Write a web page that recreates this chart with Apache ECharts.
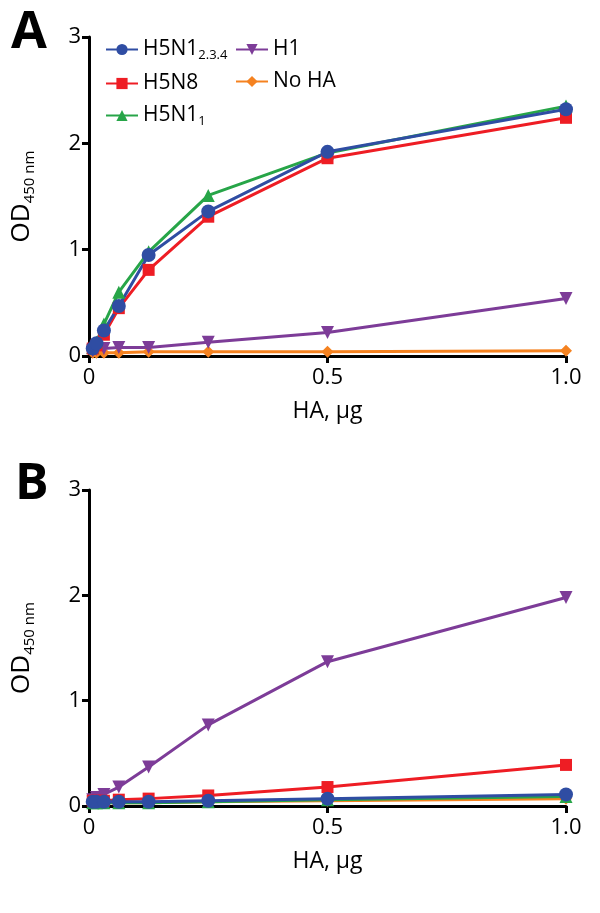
<!DOCTYPE html>
<html><head><meta charset="utf-8">
<script src="https://cdn.jsdelivr.net/npm/echarts@6/dist/echarts.min.js"></script>
<style>html,body{margin:0;padding:0;background:#fff}#c{width:600px;height:913px}</style>
</head><body><div id="c"></div>
<script>
const xValues = [0.0078125, 0.015625, 0.03125, 0.0625, 0.125, 0.25, 0.5, 1.0];
const seriesNames = ['H5N1 2.3.4', 'H5N8', 'H5N1 1', 'H1', 'No HA'];
// Panel A
const A_H5N1_234 = [0.07, 0.12, 0.24, 0.47, 0.95, 1.36, 1.92, 2.32];
const A_H5N8     = [0.07, 0.10, 0.20, 0.45, 0.81, 1.31, 1.86, 2.24];
const A_H5N1_1   = [0.08, 0.13, 0.30, 0.60, 0.98, 1.51, 1.91, 2.35];
const A_H1       = [0.05, 0.06, 0.07, 0.08, 0.08, 0.13, 0.22, 0.54];
const A_NoHA     = [0.03, 0.03, 0.03, 0.03, 0.04, 0.04, 0.04, 0.05];
// Panel B
const B_H5N1_234 = [0.04, 0.04, 0.04, 0.04, 0.04, 0.05, 0.07, 0.11];
const B_H5N8     = [0.05, 0.05, 0.05, 0.06, 0.07, 0.10, 0.18, 0.39];
const B_H5N1_1   = [0.03, 0.03, 0.03, 0.03, 0.03, 0.04, 0.06, 0.09];
const B_H1       = [0.06, 0.08, 0.11, 0.18, 0.37, 0.77, 1.37, 1.98];
const B_NoHA     = [0.03, 0.03, 0.03, 0.03, 0.03, 0.04, 0.05, 0.07];
const xTicks = ['0', '0.5', '1.0'];

const colors = {'H5N1 2.3.4':'#2f4da3','H5N8':'#ee1d24','H5N1 1':'#27a548','H1':'#7d3c98','No HA':'#f58220'};
const symbols = {'H5N1 2.3.4':'circle','H5N8':'rect','H5N1 1':'triangle','H1':'triangle','No HA':'diamond'};
const rot = {'H1':180};
const sizes = {'H5N1 2.3.4':14,'H5N8':12,'H5N1 1':13,'H1':13,'No HA':12};
const FONT = 'Open Sans';

function pair(arr){ return xValues.map((x,i)=>[x, arr[i]]); }
function mk(name, arr, idx){
  return {name, type:'line', xAxisIndex:idx, yAxisIndex:idx, data:pair(arr),
    symbol:symbols[name], symbolSize:sizes[name], symbolRotate:rot[name]||0,
    lineStyle:{width:3,color:colors[name]}, itemStyle:{color:colors[name]},
    z: 2, animation:false};
}
const order = ['No HA','H1','H5N1 1','H5N8','H5N1 2.3.4'];
const A = {'H5N1 2.3.4':A_H5N1_234,'H5N8':A_H5N8,'H5N1 1':A_H5N1_1,'H1':A_H1,'No HA':A_NoHA};
const B = {'H5N1 2.3.4':B_H5N1_234,'H5N8':B_H5N8,'H5N1 1':B_H5N1_1,'H1':B_H1,'No HA':B_NoHA};
const series = [];
order.forEach(n=>series.push(mk(n, A[n], 0)));
order.forEach(n=>series.push(mk(n, B[n], 1)));

function xAxis(idx){
  return {type:'value', gridIndex:idx, min:0, max:1, interval:0.5,
    axisLine:{lineStyle:{color:'#000',width:3}}, axisTick:{length:7,lineStyle:{width:3,color:'#000'}},
    splitLine:{show:false},
    axisLabel:{color:'#000',fontSize:22,fontFamily:FONT,margin:11,formatter:v=>xTicks[Math.round(v*2)]},
    name:'HA, µg', nameLocation:'middle', nameGap:44,
    nameTextStyle:{color:'#000',fontSize:23,fontFamily:FONT}};
}
function yAxis(idx){
  return {type:'value', gridIndex:idx, min:0, max:3, interval:1,
    axisLine:{show:true,lineStyle:{color:'#000',width:3}}, axisTick:{show:true,length:7,lineStyle:{width:3,color:'#000'}},
    splitLine:{show:false},
    axisLabel:{color:'#000',fontSize:22,fontFamily:FONT,margin:8},
    name:'{a|OD}{s|450 nm}', nameLocation:'middle', nameGap:52,
    nameTextStyle:{rich:{a:{fontSize:26,fontFamily:FONT,color:'#000'},s:{fontSize:15,fontFamily:FONT,color:'#000',verticalAlign:'bottom',padding:[16,0,0,0]}}}};
}
const legFmt = n => n==='H5N1 2.3.4' ? '{a|H5N1}{s|2.3.4}' : (n==='H5N1 1' ? '{a|H5N1}{s|1}' : '{a|'+n+'}');
const legRich = {a:{fontSize:21,fontFamily:FONT,color:'#000'},s:{fontSize:13,fontFamily:FONT,color:'#000',padding:[12,0,0,0]}};
const chart = echarts.init(document.getElementById('c'), null, {renderer:'canvas'});
chart.setOption({
  backgroundColor:'#fff',
  animation:false,
  grid:[{left:89,right:34,top:37,height:319},{left:89,right:34,top:490,height:316}],
  xAxis:[xAxis(0),xAxis(1)],
  yAxis:[yAxis(0),yAxis(1)],
  legend:[
    {data:['H5N1 2.3.4','H5N8','H5N1 1'], orient:'vertical', left:100, top:34, itemGap:11, itemWidth:32, itemHeight:14,
     formatter:legFmt, textStyle:{rich:legRich}},
    {data:['H1','No HA'], orient:'vertical', left:230, top:34, itemGap:11, itemWidth:32, itemHeight:14,
     formatter:legFmt, textStyle:{rich:legRich}}
  ],
  graphic:[
    {type:'text', style:{x:11, y:33, text:'A', font:'bold 52px "Open Sans"', fill:'#000', verticalAlign:'middle'}},
    {type:'text', style:{x:15, y:485, text:'B', font:'bold 50px "Open Sans"', fill:'#000', verticalAlign:'middle'}}
  ],
  series
});
</script></body></html>
